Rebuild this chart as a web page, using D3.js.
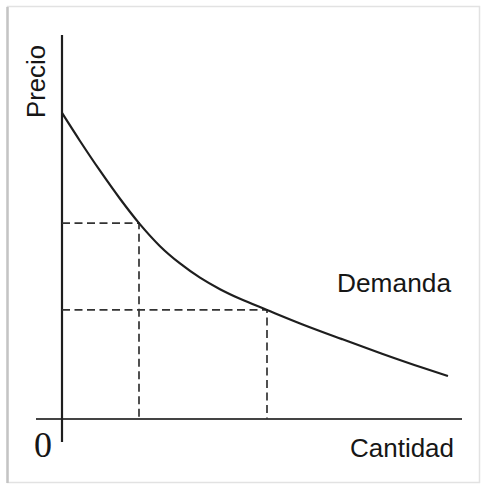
<!DOCTYPE html>
<html><head><meta charset="utf-8">
<script src="https://cdn.jsdelivr.net/npm/d3@7"></script>
<style>html,body{margin:0;padding:0;background:#fff;}svg{display:block;}</style>
</head><body>
<script>
// Demand curve points (quantity, price) in arbitrary units
const quantity = [0, 4.5, 9.5, 14.5, 19.25, 24.5, 29.5, 34.5, 39.5, 44.5, 51.25, 60, 70, 80, 90, 96.5];
const price    = [79.7, 72.4, 64.65, 57.35, 51.0, 45.0, 40.5, 36.8, 33.8, 31.3, 28.4, 24.7, 20.8, 17.0, 13.4, 11.2];
// Marked points with dashed guides
const guideQ = [19.25, 51.25];
const guideP = [51.0, 28.4];
const labels = {x: "Cantidad", y: "Precio", curve: "Demanda", origin: "0"};

const W = 482, H = 486;
const svg = d3.select("body").append("svg").attr("width", W).attr("height", H);

// frame
svg.append("rect").attr("x", 7.5).attr("y", 6.5).attr("width", 472).attr("height", 476)
  .attr("fill", "#fff").attr("stroke", "#e2e2e2").attr("stroke-width", 1.5);
svg.append("line").attr("x1", 7.5).attr("x2", 7.5).attr("y1", 7).attr("y2", 483)
  .attr("stroke", "#c4c4c4").attr("stroke-width", 2.5);

const x = d3.scaleLinear().domain([0, 100]).range([62, 462]);
const y = d3.scaleLinear().domain([0, 100]).range([419, 35]);

const ink = "#1e1e1e";

// axes
svg.append("line").attr("x1", x(-6.5)).attr("x2", x(100)).attr("y1", y(0)).attr("y2", y(0))
  .attr("stroke", "#444").attr("stroke-width", 2.2);
svg.append("line").attr("x1", x(0)).attr("x2", x(0)).attr("y1", y(100)).attr("y2", y(-6))
  .attr("stroke", ink).attr("stroke-width", 2.2);

// dashed guides
guideQ.forEach((q, i) => {
  const p = guideP[i];
  svg.append("path")
    .attr("d", `M${x(0)},${y(p)}H${x(q)}V${y(0)}`)
    .attr("fill", "none").attr("stroke", "#333").attr("stroke-width", 1.7)
    .attr("stroke-dasharray", "8,4.5");
});

// demand curve
const pts = quantity.map((q, i) => [q, price[i]]);
svg.append("path").datum(pts)
  .attr("d", d3.line().x(d => x(d[0])).y(d => y(d[1])).curve(d3.curveMonotoneX))
  .attr("fill", "none").attr("stroke", ink).attr("stroke-width", 2.2);

// labels
const sans = "'Liberation Sans', Arial, sans-serif";
svg.append("text").attr("x", 337).attr("y", 292).attr("font-family", sans).attr("font-size", 26)
  .attr("fill", "#161616").attr("textLength", 114).attr("lengthAdjust", "spacingAndGlyphs").text(labels.curve);
svg.append("text").attr("x", 350).attr("y", 457).attr("font-family", sans).attr("font-size", 26)
  .attr("fill", "#161616").attr("textLength", 104).attr("lengthAdjust", "spacingAndGlyphs").text(labels.x);
svg.append("text").attr("transform", "translate(45,118) rotate(-90)").attr("font-family", sans)
  .attr("font-size", 26).attr("fill", "#161616").attr("textLength", 73).attr("lengthAdjust", "spacingAndGlyphs").text(labels.y);
svg.append("text").attr("x", 34).attr("y", 457).attr("font-family", "'Liberation Serif', 'Times New Roman', serif")
  .attr("font-size", 36).attr("fill", "#161616").text(labels.origin);
</script>
</body></html>
